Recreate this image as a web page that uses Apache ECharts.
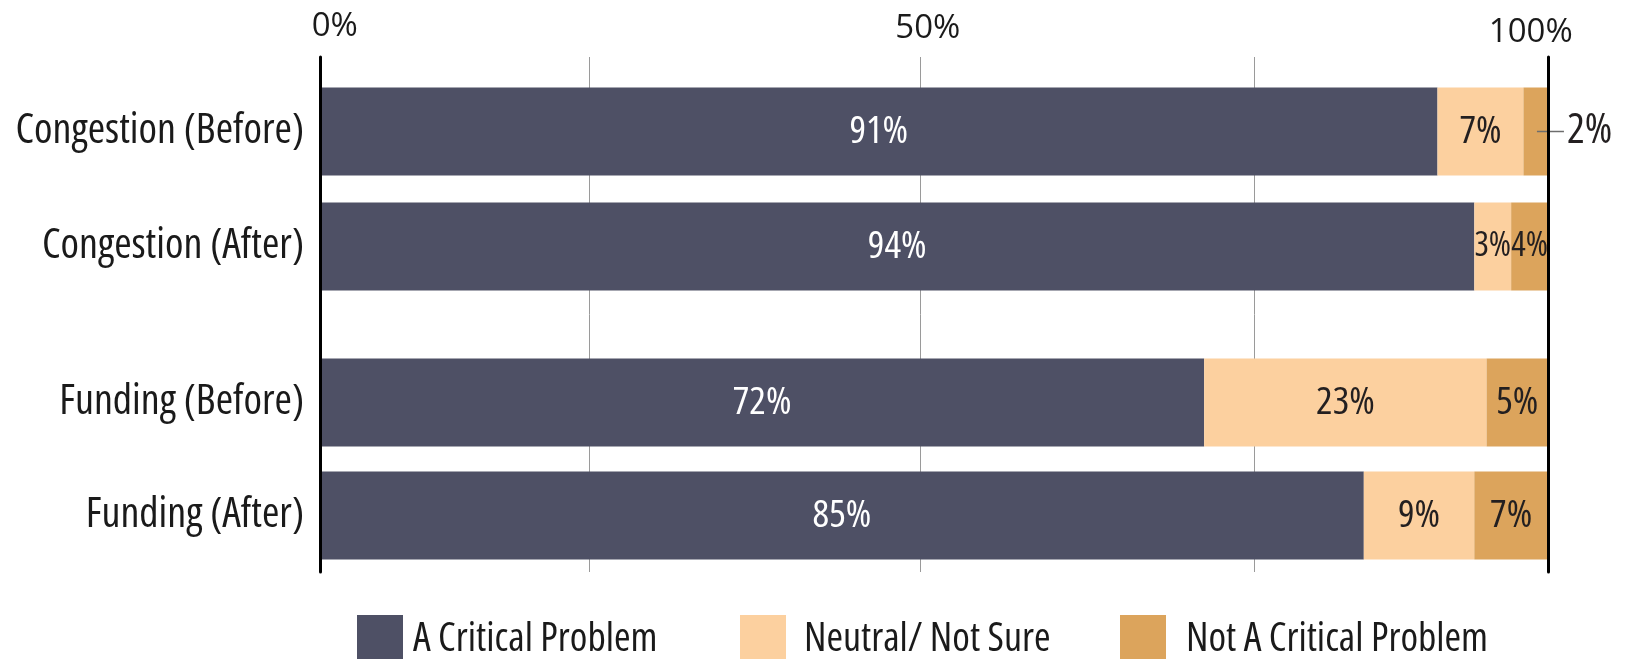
<!DOCTYPE html>
<html>
<head>
<meta charset="utf-8">
<script src="https://cdn.jsdelivr.net/npm/echarts@6/dist/echarts.min.js"></script>
<style>html,body{margin:0;padding:0;background:#fff}#c{width:1625px;height:659px}</style>
</head>
<body>
<div id="c"></div>
<script>
// ---- data ----
const categories = ['Congestion (Before)', 'Congestion (After)', 'Funding (Before)', 'Funding (After)'];
const critical = [91, 94, 72, 85];
const neutral = [7, 3, 23, 9];
const notCritical = [2, 4, 5, 7];
const seriesNames = ['A Critical Problem', 'Neutral/ Not Sure', 'Not A Critical Problem'];
const gridTicks = [21.9, 48.9, 76.1];
const topTickLabels = ['0%', '50%', '100%'];
const topTickValues = [1.2, 49.5, 98.6];

// ---- styling ----
// Open Sans with the condensed width (font-stretch is passed through the font shorthand)
const FF = "'Open Sans', 'Roboto Condensed', sans-serif";
const FW = 'condensed';
const colors = ['#4e5065', '#fcd09f', '#dca45c'];
const labelColors = ['#ffffff', '#231f20', '#231f20'];
const valueSets = [critical, neutral, notCritical];

function itemFor(s, idx, v) {
  const item = { value: v };
  if (s === 2 && idx === 0) {
    item.label = {
      position: ['55%', '50%'], align: 'left', verticalAlign: 'middle',
      formatter: p => '{ln| }{v|' + p.value + '%}',
      rich: {
        ln: { width: 27, height: 1.5, backgroundColor: '#6d6d6d' },
        v: { fontSize: 42, fontFamily: FF, fontWeight: FW, color: '#231f20', padding: [0, 0, 0, 3] }
      }
    };
  } else if (idx === 1 && s > 0) {
    item.label = { fontSize: 34 };
  }
  return item;
}

const series = [];
[0, 1].forEach(g => {
  valueSets.forEach((vals, s) => {
    series.push({
      name: seriesNames[s],
      type: 'bar',
      stack: 'g' + g,
      xAxisIndex: g + 1,
      yAxisIndex: g + 2,
      barWidth: 88,
      clip: true,
      itemStyle: { color: colors[s] },
      label: {
        show: true, position: 'inside', color: labelColors[s],
        fontSize: 39, fontFamily: FF, fontWeight: FW, formatter: '{c}%'
      },
      emphasis: { disabled: true },
      data: vals.slice(g * 2, g * 2 + 2).map((v, i) => itemFor(s, g * 2 + i, v))
    });
  });
});

const frameY = pos => ({
  gridIndex: 0, type: 'value', min: 0, max: 1, position: pos, z: 10,
  axisLine: { show: true, onZero: false, lineStyle: { color: '#000', width: 3 } },
  axisLabel: { show: false }, axisTick: { show: false }, splitLine: { show: false }
});
const barY = (g) => ({
  gridIndex: g, type: 'category', inverse: true,
  data: categories.slice((g - 1) * 2, (g - 1) * 2 + 2),
  axisLine: { show: false }, axisTick: { show: false },
  axisLabel: { fontSize: 42, color: '#1a1a1a', fontFamily: FF, fontWeight: FW, margin: 16 }
});
const barX = (g) => ({ gridIndex: g, type: 'value', min: 0, max: 100, show: false });

const legendAt = (i, left, gap) => ({
  data: [seriesNames[i]], left: left, top: 615, padding: 0,
  itemWidth: 46, itemHeight: 50, icon: 'rect', selectedMode: false,
  textStyle: { fontSize: 40, fontFamily: FF, fontWeight: FW, color: '#1a1a1a', padding: [0, 0, 0, gap] }
});

const tickRich = (pb) => ({ fontSize: 33, fontFamily: FF, color: '#1a1a1a', padding: [0, 0, pb, 0] });

const option = {
  animation: false,
  backgroundColor: '#ffffff',
  grid: [
    { left: 320, right: 77, top: 57, bottom: 87, outerBoundsMode: 'none', containLabel: false },
    { left: 320, right: 77, top: 74, height: 230, outerBoundsMode: 'none', containLabel: false },
    { left: 320, right: 77, top: 346, height: 226, outerBoundsMode: 'none', containLabel: false }
  ],
  xAxis: [
    {
      gridIndex: 0, type: 'value', min: 0, max: 100, position: 'top',
      axisLine: { show: false },
      axisTick: { show: false, customValues: gridTicks },
      splitLine: { show: true, lineStyle: { color: '#9a9a9a', width: 1 } },
      axisLabel: {
        customValues: topTickValues, margin: 8,
        fontSize: 33, fontFamily: FF, color: '#1a1a1a',
        formatter: (v) => {
          let best = 0;
          topTickValues.forEach((t, i) => { if (Math.abs(t - v) < Math.abs(topTickValues[best] - v)) best = i; });
          return '{t' + best + '|' + topTickLabels[best] + '}';
        },
        rich: { t0: tickRich(6), t1: tickRich(4), t2: tickRich(0) }
      }
    },
    barX(1), barX(2)
  ],
  yAxis: [frameY('left'), frameY('right'), barY(1), barY(2)],
  legend: [legendAt(0, 357, 5), legendAt(1, 740, 13), legendAt(2, 1120, 15)],
  series: series
};

const chart = echarts.init(document.getElementById('c'), null, { renderer: 'canvas' });
chart.setOption(option);
</script>
</body>
</html>
